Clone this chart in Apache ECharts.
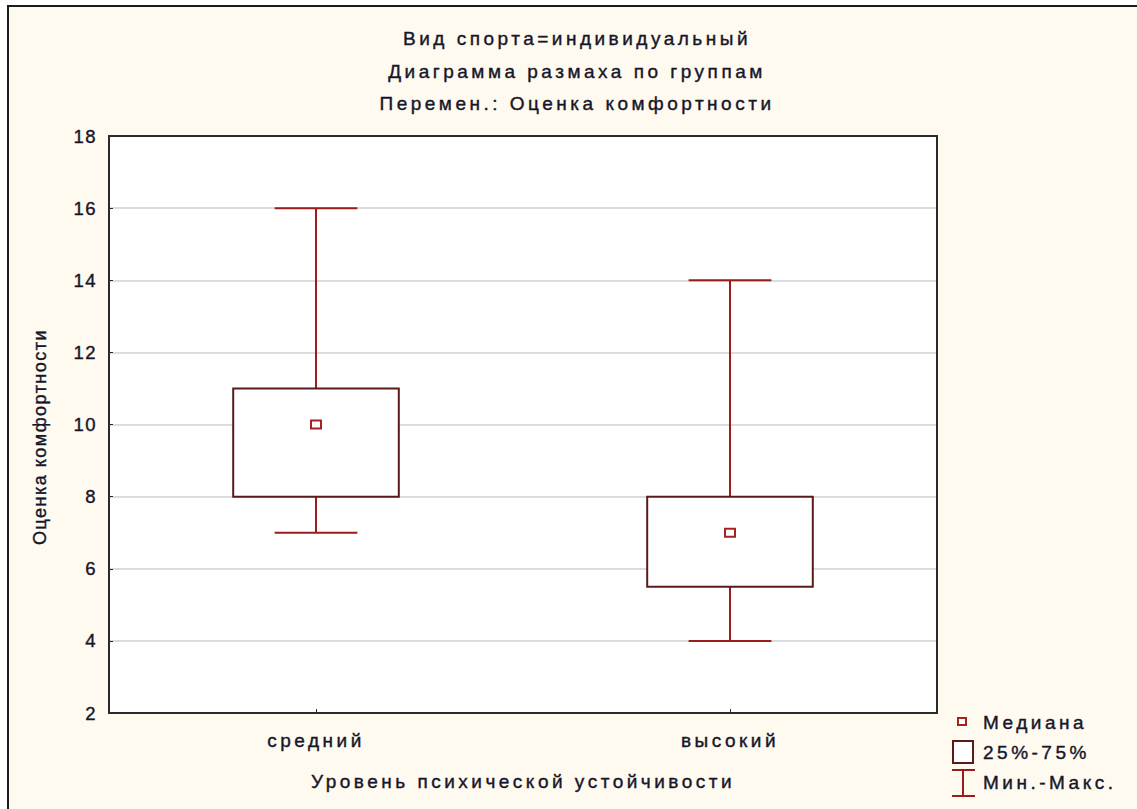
<!DOCTYPE html>
<html>
<head>
<meta charset="utf-8">
<title>Диаграмма размаха по группам</title>
<script src="https://cdn.jsdelivr.net/npm/echarts@6/dist/echarts.min.js"></script>
<style>
	html, body { margin: 0; padding: 0; background: #fff; }
	#boxChart { width: 1137px; height: 809px; }
	/* разреженный шрифт как в Statistica */
	#boxChart text { letter-spacing: 2px; }
	#boxChart text[style*="19px"] { letter-spacing: 3.5px; }
	#boxChart text[style*="18px"] { letter-spacing: 1.5px; }
	#boxChart text[style*="18.5px"] { letter-spacing: 1.5px; }
</style>
</head>
<body>
<div id="boxChart"></div>
<script>
// группы по оси X
var groups = ['средний', 'высокий'];
// мин, 25%, медиана, 75%, макс
var minVals = [7, 4];
var q1Vals = [8, 5.5];
var medianVals = [10, 7];
var q3Vals = [11, 8];
var maxVals = [16, 14];
var yTicks = [2, 4, 6, 8, 10, 12, 14, 16, 18];

var titleLines = ['Вид спорта=индивидуальный', 'Диаграмма размаха по группам', 'Перемен.: Оценка комфортности'];
var legendLabels = ['Медиана', '25%-75%', 'Мин.-Макс.'];

var whiskerColor = '#9b1c1c',
	boxColor = '#5b1a1a',
	medianColor = '#a52222',
	textColor = '#16162a',
	frameColor = '#2a2a2a';

// положение области построения
var plotLeft = 109, plotTop = 136, plotRight = 200, plotBottom = 96;

initChart();

function initChart() {
	var myChart = echarts.init(document.getElementById('boxChart'), null, {
		renderer : 'svg'
	});
	var seriesData = [];
	for (var i = 0; i < groups.length; i++) {
		seriesData.push([i, minVals[i], q1Vals[i], medianVals[i], q3Vals[i], maxVals[i]]);
	}
	var frameLine = { show : true, lineStyle : { color : frameColor, width : 2 } };
	var option = {
		animation : false,
		backgroundColor : '#ffffff',
		textStyle : {
			fontFamily : 'Liberation Sans, Arial, sans-serif'
		},
		graphic : buildGraphic(),
		grid : {
			left : plotLeft,
			top : plotTop,
			right : plotRight,
			bottom : plotBottom,
			show : true,
			backgroundColor : '#ffffff',
			borderWidth : 0
		},
		xAxis : [ {
			type : 'category',
			data : groups,
			axisLine : frameLine,
			axisTick : { show : true, inside : true, length : 4, alignWithLabel : true, lineStyle : { color : frameColor } },
			axisLabel : { margin : 18, fontSize : 19, color : textColor, textBorderColor : textColor, textBorderWidth : 0.4 },
			splitLine : { show : false },
			z : 4
		}, {
			// верхняя сторона рамки
			type : 'category',
			data : groups,
			position : 'top',
			axisLine : frameLine,
			axisTick : { show : false },
			axisLabel : { show : false },
			splitLine : { show : false },
			z : 4
		} ],
		yAxis : [ {
			type : 'value',
			min : yTicks[0],
			max : yTicks[yTicks.length - 1],
			interval : 2,
			axisLine : frameLine,
			axisTick : { show : true, inside : true, length : 4, lineStyle : { color : frameColor } },
			axisLabel : { margin : 12, fontSize : 18.5, color : textColor, textBorderColor : textColor, textBorderWidth : 0.4 },
			splitLine : { show : true, showMinLine : false, showMaxLine : false, lineStyle : { color : '#dcdcdc', width : 2 } },
			z : 2
		}, {
			// правая сторона рамки
			type : 'value',
			min : yTicks[0],
			max : yTicks[yTicks.length - 1],
			interval : 2,
			position : 'right',
			axisLine : frameLine,
			axisTick : { show : false },
			axisLabel : { show : false },
			splitLine : { show : false },
			z : 4
		} ],
		series : [ {
			type : 'custom',
			renderItem : renderBox,
			encode : { x : 0, y : [1, 2, 3, 4, 5] },
			data : seriesData,
			z : 5
		} ]
	};
	myChart.setOption(option);
}

/*
 * рисуем ящик, усы и медиану
 */
function renderBox(params, api) {
	var idx = api.value(0);
	var band = api.size([1, 0])[0];
	var pMin = api.coord([idx, api.value(1)]);
	var pQ1 = api.coord([idx, api.value(2)]);
	var pMed = api.coord([idx, api.value(3)]);
	var pQ3 = api.coord([idx, api.value(4)]);
	var pMax = api.coord([idx, api.value(5)]);
	var cx = pMed[0];
	var boxW = band * 0.4,
		capW = band * 0.2;
	var wStyle = { stroke : whiskerColor, lineWidth : 2 };
	return {
		type : 'group',
		children : [ {
			type : 'line',
			shape : { x1 : cx, y1 : pMax[1], x2 : cx, y2 : pQ3[1] },
			style : wStyle
		}, {
			type : 'line',
			shape : { x1 : cx, y1 : pQ1[1], x2 : cx, y2 : pMin[1] },
			style : wStyle
		}, {
			type : 'line',
			shape : { x1 : cx - capW / 2, y1 : pMax[1], x2 : cx + capW / 2, y2 : pMax[1] },
			style : wStyle
		}, {
			type : 'line',
			shape : { x1 : cx - capW / 2, y1 : pMin[1], x2 : cx + capW / 2, y2 : pMin[1] },
			style : wStyle
		}, {
			type : 'rect',
			shape : { x : cx - boxW / 2, y : pQ3[1], width : boxW, height : pQ1[1] - pQ3[1] },
			style : { fill : '#ffffff', stroke : boxColor, lineWidth : 2 }
		}, {
			type : 'rect',
			shape : { x : cx - 5, y : pMed[1] - 4, width : 10, height : 8 },
			style : { fill : '#ffffff', stroke : medianColor, lineWidth : 2 }
		} ]
	};
}

/*
 * фон, заголовки, подписи осей, легенда
 */
function buildGraphic() {
	var g = [];
	var font = '19px "Liberation Sans", Arial, sans-serif';
	var txt = function(x, y, text, align, f, rot) {
		return {
			type : 'text',
			x : x,
			y : y,
			rotation : rot || 0,
			style : { text : text, font : f || font, fill : textColor, stroke : textColor, lineWidth : 0.4,
				textAlign : align, textVerticalAlign : 'middle' }
		};
	};
	// рамка и кремовый фон
	g.push({
		type : 'rect',
		shape : { x : 8, y : 6, width : 1140, height : 820 },
		style : { fill : '#fffaef', stroke : '#1c1c1c', lineWidth : 2 },
		z : -10
	});
	var titleY = [38, 71, 103];
	for (var i = 0; i < titleLines.length; i++) {
		g.push(txt(577, titleY[i], titleLines[i], 'center'));
	}
	// название оси X
	g.push(txt(523, 781, 'Уровень психической устойчивости', 'center'));
	// название оси Y
	g.push(txt(40, 437, 'Оценка комфортности', 'center', '18px "Liberation Sans", Arial, sans-serif', Math.PI / 2));
	// легенда
	g.push({
		type : 'rect',
		shape : { x : 958, y : 718, width : 8, height : 7 },
		style : { fill : '#ffffff', stroke : medianColor, lineWidth : 2 }
	});
	g.push({
		type : 'rect',
		shape : { x : 953, y : 741, width : 20, height : 22 },
		style : { fill : '#ffffff', stroke : boxColor, lineWidth : 2 }
	});
	g.push({ type : 'line', shape : { x1 : 952, y1 : 770, x2 : 975, y2 : 770 }, style : { stroke : whiskerColor, lineWidth : 2 } });
	g.push({ type : 'line', shape : { x1 : 963, y1 : 770, x2 : 963, y2 : 796 }, style : { stroke : whiskerColor, lineWidth : 2 } });
	g.push({ type : 'line', shape : { x1 : 952, y1 : 796, x2 : 975, y2 : 796 }, style : { stroke : whiskerColor, lineWidth : 2 } });
	var legendY = [722, 752, 782];
	for (var j = 0; j < legendLabels.length; j++) {
		g.push(txt(983, legendY[j], legendLabels[j], 'left'));
	}
	return g;
}
</script>
</body>
</html>
